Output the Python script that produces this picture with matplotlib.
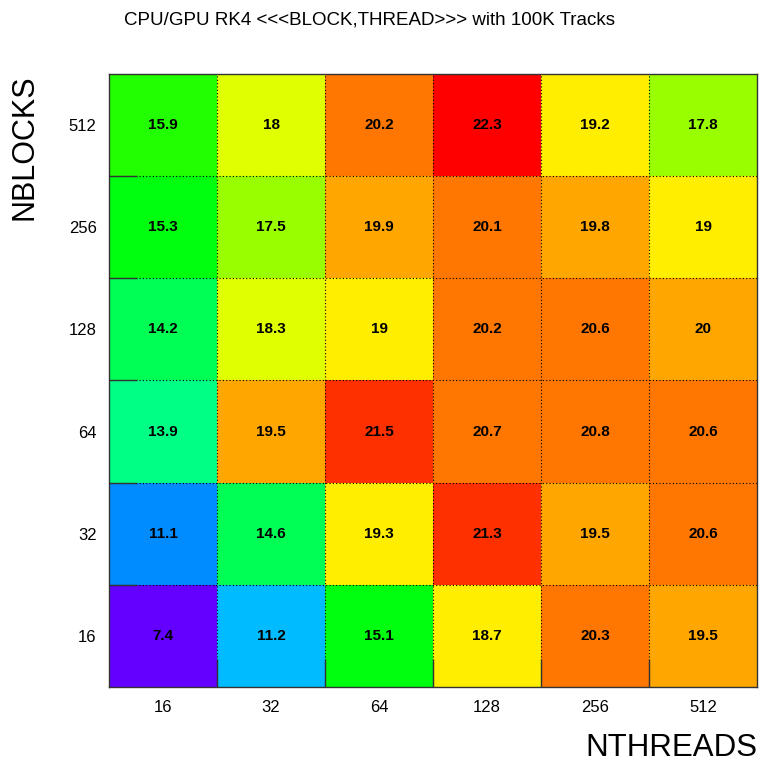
import colorsys
import numpy as np
import matplotlib
matplotlib.use("Agg")
import matplotlib.pyplot as plt
from matplotlib.colors import ListedColormap, Normalize

nthreads = ["16", "32", "64", "128", "256", "512"]
nblocks = ["16", "32", "64", "128", "256", "512"]

# rows: NBLOCKS 16 -> 512, columns: NTHREADS 16 -> 512
speedup = np.array([
    [7.4, 11.2, 15.1, 18.7, 20.3, 19.5],
    [11.1, 14.6, 19.3, 21.3, 19.5, 20.6],
    [13.9, 19.5, 21.5, 20.7, 20.8, 20.6],
    [14.2, 18.3, 19.0, 20.2, 20.6, 20.0],
    [15.3, 17.5, 19.9, 20.1, 19.8, 19.0],
    [15.9, 18.0, 20.2, 22.3, 19.2, 17.8],
])

# ROOT "pretty" palette (50 hues) sampled on 20 contour levels
ncont = 20
cols = []
for lev in range(ncont):
    idx = int((lev + 0.99) * 50 / ncont)
    hue = 280 - (idx + 1) * 280 / 50
    cols.append(colorsys.hls_to_rgb(hue / 360.0, 0.5, 1.0))
cmap = ListedColormap(cols)
norm = Normalize(vmin=speedup.min(), vmax=speedup.max())

plt.rcParams['font.family'] = ['Liberation Sans', 'DejaVu Sans']

fig = plt.figure(figsize=(7.6, 7.62), dpi=100)
ax = fig.add_axes([109 / 760, 1 - 687 / 762, (757 - 109) / 760, (687 - 74) / 762])

ax.pcolormesh(np.arange(7), np.arange(7), speedup, cmap=cmap, norm=norm)

for i in range(len(nblocks)):
    for j in range(len(nthreads)):
        ax.text(j + 0.5, i + 0.5, f"{speedup[i, j]:g}", ha='center', va='center',
                fontsize=11, fontweight='bold', color='black')

ax.set_xlim(0, 6)
ax.set_ylim(0, 6)
ax.set_xticks(np.arange(6) + 0.5)
ax.set_xticklabels(nthreads)
ax.set_yticks(np.arange(6) + 0.5)
ax.set_yticklabels(nblocks)
ax.set_xticks(np.arange(1, 6), minor=True)
ax.set_yticks(np.arange(1, 6), minor=True)
ax.tick_params(which='major', length=0, labelsize=12, pad=9)
ax.tick_params(which='minor', length=20, direction='in', width=1, color='#333333')
ax.grid(which='minor', color='black', linestyle=(0, (1, 2)), linewidth=0.8)
ax.set_axisbelow(False)
for s in ax.spines.values():
    s.set_color('#333333')
    s.set_linewidth(1)

fig.text(124 / 760, 1 - 20 / 762, "CPU/GPU RK4 <<<BLOCK,THREAD>>> with 100K Tracks",
         ha='left', va='center', fontsize=13.5)
fig.text(757 / 760, 1 - 748 / 762, "NTHREADS", ha='right', va='center', fontsize=22.5)
fig.text(25 / 760, 1 - 74 / 762, "NBLOCKS", ha='center', va='top', rotation=90, fontsize=22)

fig.savefig("out.png", dpi=100)
